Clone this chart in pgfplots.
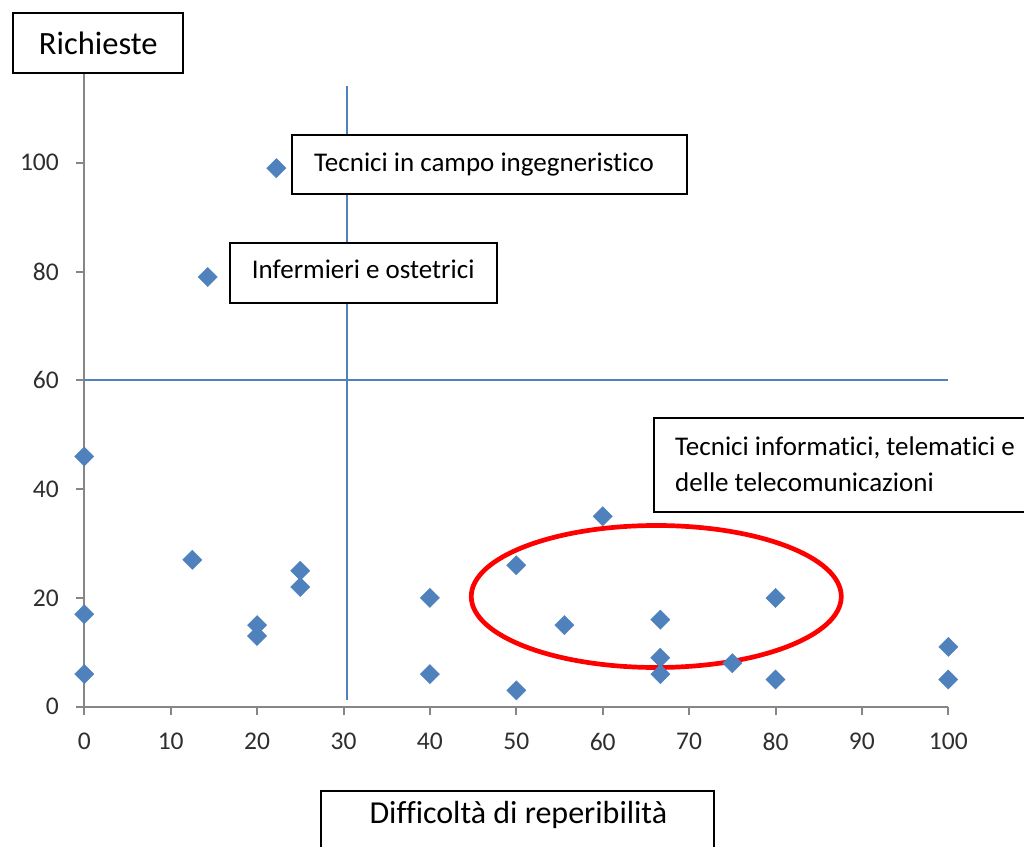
\documentclass[border=0pt]{standalone}
\usepackage{fontspec}
\setmainfont{Carlito}[Ligatures={NoCommon}]
\usepackage{pgfplots}
\pgfplotsset{compat=1.18}
\definecolor{mblue}{HTML}{4F81BD}
\definecolor{axgray}{HTML}{868686}
\definecolor{lblue}{HTML}{4F81BD}
\pgfplotstableread{
x y
22.22 99
14.29 79
0 46
0 17
0 6
12.5 27
20 15
20 13
25 25
25 22
40 20
40 6
50 26
50 3
55.56 15
60 35
66.67 16
66.67 9
66.67 6
75 8
80 20
80 5
100 11
100 5
}\pts
\begin{document}
\begin{tikzpicture}
\useasboundingbox (0pt,0pt) rectangle (1024pt,-846pt);
\begin{axis}[
  at={(84.3pt,-706.7pt)}, anchor=south west,
  scale only axis, width=864pt, height=652.8pt,
  xmin=0, xmax=100, ymin=0, ymax=120,
  axis x line=bottom, axis y line=left,
  axis line style={axgray, line width=2pt, -},
  xtick={0,10,...,100}, ytick={0,20,...,100},
  minor tick num=0,
  tick align=outside, major tick length=8.3pt,
  tick style={axgray, line width=2pt},
  /pgf/number format/assume math mode=true,
  ticklabel style={font=\fontsize{25.5}{30}\selectfont, color=black!82},
  xticklabel style={inner sep=0pt, yshift=-18pt},
  yticklabel style={inner sep=0pt, xshift=-17pt},
  clip=false,
]
\addplot[lblue, line width=2pt] coordinates {(30.44,1.2) (30.44,114.1)};
\addplot[lblue, line width=2pt] coordinates {(0,60) (100,60)};
\addplot[only marks, mark=square*, mark size=6.8pt,
  mark options={rotate=45, fill=mblue, draw=mblue, line width=0.4pt}] table[x=x,y=y] {\pts};
\draw[red, line width=4.7pt] (axis cs:66.2,20.26) ellipse [x radius=185pt, y radius=71pt];
\end{axis}
\begin{scope}[x=1pt,y=-1pt]
\draw[line width=2pt, fill=white] (13.3,12.7) rectangle (182.7,72.7);
\node[anchor=base, inner sep=0pt, font=\fontsize{32.5}{38}\selectfont] at (98.3,54.3) {Richieste};
\draw[line width=2pt, fill=white] (320.7,790.7) rectangle (714.3,870);
\node[anchor=base, inner sep=0pt, font=\fontsize{32}{38}\selectfont] at (518.4,823.3) {Difficoltà di reperibilità};
\draw[line width=2pt, fill=white] (291.7,135) rectangle (686.7,194);
\node[anchor=base west, inner sep=0pt, font=\fontsize{27}{33}\selectfont] at (314,171.7) {Tecnici in campo ingegneristico};
\draw[line width=2pt, fill=white] (230,242.7) rectangle (496.7,302.7);
\node[anchor=base west, inner sep=0pt, font=\fontsize{27}{33}\selectfont] at (251.7,278.3) {Infermieri e ostetrici};
\draw[line width=2pt, fill=white] (654,418) rectangle (1050,512.3);
\node[anchor=base west, inner sep=0pt, font=\fontsize{27}{33}\selectfont] at (675,455) {Tecnici informatici, telematici e};
\node[anchor=base west, inner sep=0pt, font=\fontsize{27}{33}\selectfont] at (675,491.7) {delle telecomunicazioni};
\end{scope}
\end{tikzpicture}
\end{document}
